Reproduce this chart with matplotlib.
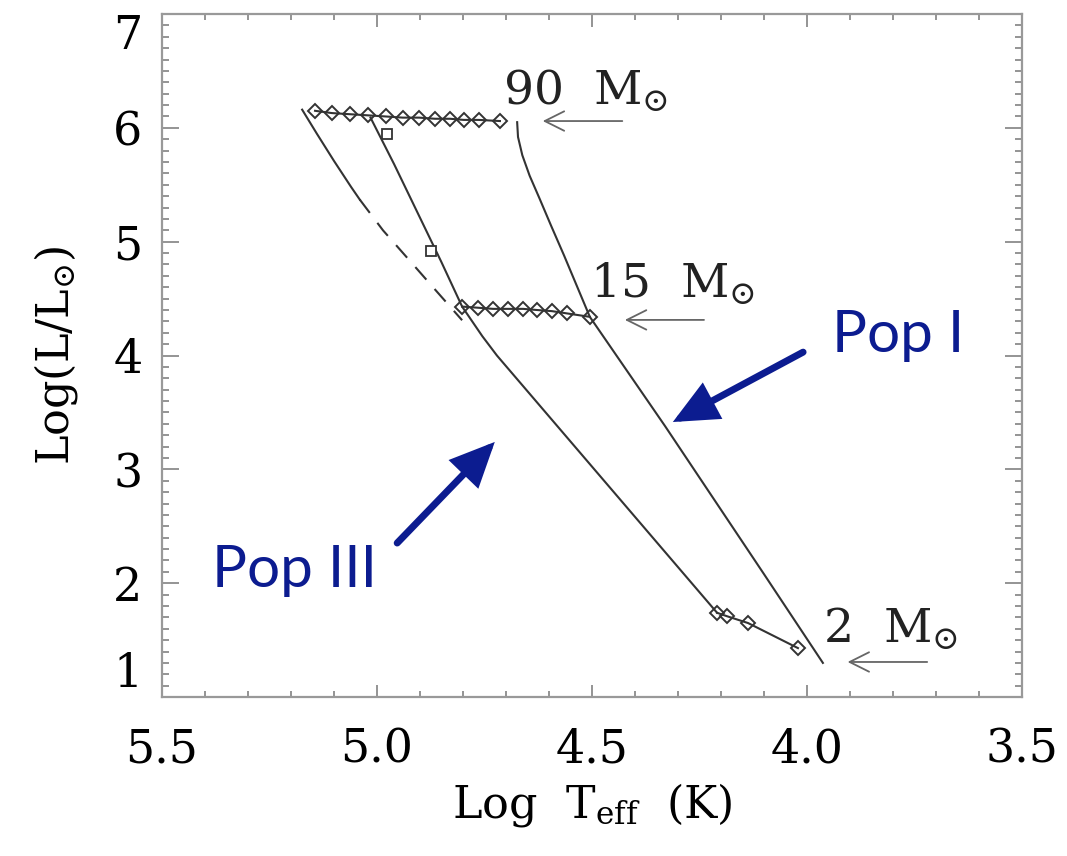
import matplotlib
matplotlib.use("Agg")
import matplotlib.pyplot as plt
from matplotlib.patches import FancyArrowPatch
from matplotlib.ticker import MultipleLocator, FormatStrFormatter

plt.rcParams['font.family'] = 'DejaVu Serif'
plt.rcParams['mathtext.fontset'] = 'dejavuserif'

# --- evolutionary tracks (log Teff, log L/Lsun) ---
teff_90 = [5.144, 5.105, 5.063, 5.021, 4.979, 4.940, 4.902, 4.865, 4.830, 4.798, 4.763, 4.714]
logl_90 = [6.15, 6.13, 6.12, 6.11, 6.10, 6.09, 6.09, 6.08, 6.08, 6.07, 6.07, 6.06]

teff_15 = [4.802, 4.765, 4.730, 4.695, 4.660, 4.628, 4.593, 4.558, 4.505]
logl_15 = [4.43, 4.42, 4.41, 4.41, 4.41, 4.40, 4.39, 4.37, 4.34]

teff_2 = [4.209, 4.186, 4.137, 4.021]
logl_2 = [1.74, 1.71, 1.65, 1.43]

# Pop I zero-age main sequence
teff_pop1 = [4.674, 4.672, 4.662, 4.645, 4.622, 4.595, 4.565, 4.535, 4.505, 4.330, 4.100, 3.963]
logl_pop1 = [6.05, 5.92, 5.76, 5.58, 5.38, 5.14, 4.88, 4.61, 4.34, 3.38, 2.08, 1.30]

# Pop III zero-age main sequence (solid part, then dashed extension)
teff_pop3_a = [5.174, 5.140, 5.100, 5.060, 5.040]
logl_pop3_a = [6.16, 5.95, 5.71, 5.48, 5.37]
teff_pop3_dash = [5.040, 4.986, 4.930, 4.865, 4.802]
logl_pop3_dash = [5.37, 5.10, 4.86, 4.58, 4.31]

# Pop III main branch
teff_pop3_b = [5.015, 4.960, 4.905, 4.850, 4.802, 4.755, 4.721, 4.209]
logl_pop3_b = [6.09, 5.68, 5.25, 4.82, 4.43, 4.17, 4.00, 1.74]

# square markers
teff_sq = [4.977, 4.874]
logl_sq = [5.95, 4.92]

mass_labels = ['90', '15', '2']
label_pos = [(4.707, 6.20), (4.505, 4.506), (3.963, 1.475)]
label_arrows = [((4.423, 6.06), (4.621, 6.06)),
                ((4.233, 4.313), (4.430, 4.313)),
                ((3.714, 1.308), (3.912, 1.308))]

xticks = [5.5, 5.0, 4.5, 4.0, 3.5]
yticks = [1, 2, 3, 4, 5, 6, 7]

navy = '#0c1c90'
ink = '#333333'

fig = plt.figure(figsize=(10.67, 8.56), dpi=100)
ax = fig.add_axes([0.1518, 0.1857, 0.8060, 0.7979])

ax.set_xlim(5.5, 3.5)
ax.set_ylim(1, 7)

lw = 1.5
ax.plot(teff_pop1, logl_pop1, color=ink, lw=lw)
ax.plot(teff_pop3_a, logl_pop3_a, color=ink, lw=lw)
ax.plot(teff_pop3_dash, logl_pop3_dash, color=ink, lw=lw, dashes=(8, 6))
ax.plot(teff_pop3_b, logl_pop3_b, color=ink, lw=lw)

mk = dict(color=ink, lw=lw, marker='D', ms=7, mfc='none', mec=ink, mew=1.4)
ax.plot(teff_90, logl_90, **mk)
ax.plot(teff_15, logl_15, **mk)
ax.plot(teff_2, logl_2, **mk)
ax.plot(teff_sq, logl_sq, ls='none', marker='s', ms=7, mfc='white', mec=ink, mew=1.3)

for lab, (x, y), (tail, head) in zip(mass_labels, label_pos, label_arrows):
    ax.text(x, y, lab + r'  $\mathrm{M}_{\odot}$', fontsize=34, color='#222222',
            ha='left', va='baseline')
    ax.add_patch(FancyArrowPatch(tail, head, arrowstyle='->,head_length=14,head_width=7',
                                 color='#666666', lw=1.3, mutation_scale=1))

# population arrows and labels
ax.add_patch(FancyArrowPatch((4.953, 2.353), (4.726, 3.241),
                             arrowstyle='-|>,head_length=24,head_width=11',
                             color=navy, lw=5, mutation_scale=1, joinstyle='miter',
                             shrinkA=0, shrinkB=0))
ax.add_patch(FancyArrowPatch((4.009, 4.03), (4.312, 3.416),
                             arrowstyle='-|>,head_length=24,head_width=11',
                             color=navy, lw=5, mutation_scale=1, joinstyle='miter',
                             shrinkA=0, shrinkB=0))
ax.text(5.384, 1.967, 'Pop III', fontsize=42, color=navy, family='Lato',
        ha='left', va='baseline')
ax.text(3.942, 4.03, 'Pop I', fontsize=42, color=navy, family='Lato',
        ha='left', va='baseline')

# axes styling
for s in ax.spines.values():
    s.set_color('#999999')
    s.set_linewidth(1.6)

ax.set_xticks(xticks)
ax.set_yticks(yticks)
ax.xaxis.set_major_formatter(FormatStrFormatter('%.1f'))
ax.xaxis.set_minor_locator(MultipleLocator(0.1))
ax.yaxis.set_minor_locator(MultipleLocator(0.1))
ax.tick_params(which='both', direction='in', top=True, right=True,
               color='#777777', width=1.1)
ax.tick_params(axis='x', which='major', length=9, labelsize=33, pad=22)
ax.tick_params(axis='x', which='minor', length=4)
ax.tick_params(axis='y', which='major', length=12, labelsize=33, pad=14)
ax.tick_params(axis='y', which='minor', length=5)

ylabels = ax.get_yticklabels()
ylabels[0].set_va('bottom')
ylabels[-1].set_va('top')

ax.set_xlabel(r'Log  T$_{\mathrm{eff}}$  (K)', fontsize=32, labelpad=6)
ax.set_ylabel(r'Log(L/L$_{\odot}$)', fontsize=32, labelpad=24)

fig.savefig('out.png', dpi=100)
